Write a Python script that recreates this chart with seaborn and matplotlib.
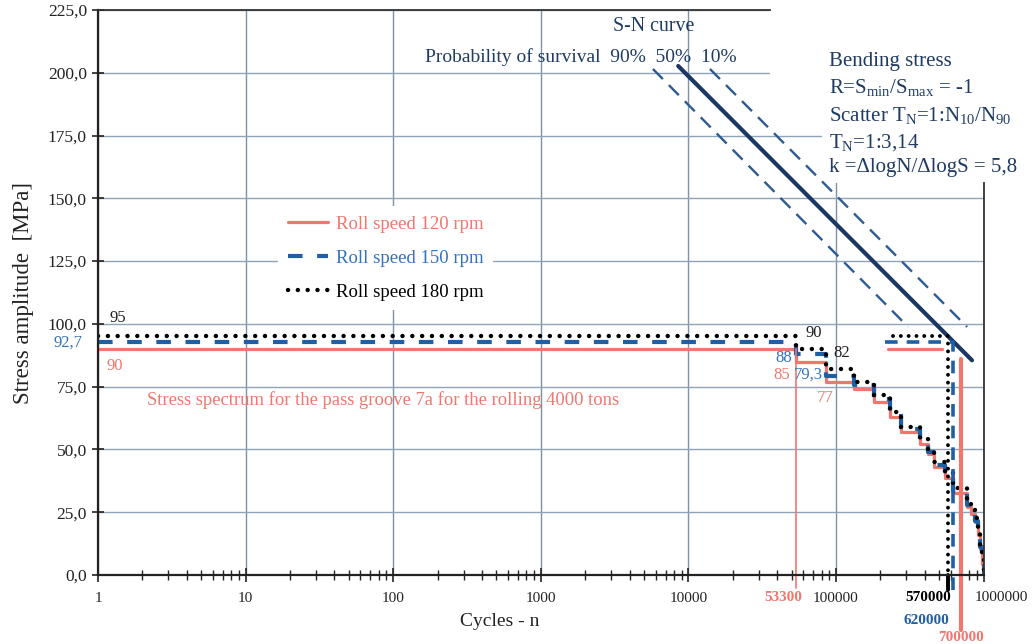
import matplotlib
matplotlib.use("Agg")
import matplotlib.pyplot as plt
from matplotlib.patches import Rectangle
import seaborn as sns
from matplotlib.ticker import FixedLocator, FuncFormatter, LogLocator, NullFormatter

# ---------------- data ----------------
step_cycles = [1, 53300, 85500, 132000, 181000, 232000, 276000, 371000, 420000, 465000,
               547000, 620000, 773000, 820000, 870000, 910000, 950000, 980000, 1000000]
stress_180 = [95, 90, 82, 77, 71.5, 65, 59, 54, 50, 45, 40.5, 34.6, 28.7, 26, 22.7, 17.5, 12, 6, 0]
stress_150 = [92.7, 88, 79.3, 75.5, 70, 64, 58, 53, 49, 44, 39.5, 33.5, 28, 25, 21.5, 16.5, 11, 5, 0]
stress_120 = [90, 85, 77, 74, 69, 63, 57, 52, 48, 43, 38.5, 32.8, 27.2, 24.5, 21, 16, 10.5, 4.5, 0]

eq180_n = [243000, 570000, 570000]
eq180_s = [95, 95, 0]
eq180_tail_n = [570000, 570000]
eq180_tail_s = [0, -6]
eq150_n = [215000, 620000, 620000]
eq150_s = [92.7, 92.7, -9]
eq120_n = [225000, 523000]
eq120_s = [90, 90]
eq120_v_n = [700000, 700000]
eq120_v_s = [86, -22]
first_step_n = [53300, 53300]
first_step_s = [90, -5]

sn50_n = [8530, 835000]
sn50_s = [202.7, 85.5]
sn90_n = [5750, 308000]
sn90_s = [201.5, 98.8]
sn10_n = [14000, 773000]
sn10_s = [201.5, 98.8]

x_ticks = [1, 10, 100, 1000, 10000, 100000, 1000000]
x_tick_labels = ["1", "10", "100", "1000", "10000", "100000", ""]
y_ticks = [0, 25, 50, 75, 100, 125, 150, 175, 200, 225]

RED = "#ef776e"
BLUE = "#1f5fa6"
BLUE_TXT = "#3372bd"
NAVY = "#1b3767"
SNDASH = "#2b5a94"
TXT = "#1f3b63"
GRID = "#8fa3b6"

sns.set_theme(style="white")
plt.rcParams["font.family"] = ["Liberation Serif", "DejaVu Serif"]
plt.rcParams["mathtext.fontset"] = "custom"
plt.rcParams["mathtext.rm"] = "Liberation Serif"
plt.rcParams["mathtext.it"] = "Liberation Serif:italic"
plt.rcParams["mathtext.bf"] = "Liberation Serif:bold"

fig = plt.figure(figsize=(10.36, 6.44), dpi=100)
ax = fig.add_axes([0.0946, 0.1071, 0.8548, 0.8774])
ax.set_xscale("log")
ax.set_xlim(1, 1e6)
ax.set_ylim(0, 225)

# grid
ax.xaxis.grid(True, which="major", color="#7d92a6", lw=1.0)
ax.yaxis.grid(True, which="major", color=GRID, lw=1.0)
ax.set_axisbelow(True)

# white areas behind the text block (top right), as in the original layout
ax.add_patch(Rectangle((0.759, 0.841), 0.30, 0.20, transform=ax.transAxes, facecolor="white",
                       edgecolor="none", zorder=1, clip_on=False))
ax.add_patch(Rectangle((0.8175, 0.694), 0.25, 0.20, transform=ax.transAxes, facecolor="white",
                       edgecolor="none", zorder=1, clip_on=False))

# S-N curves
sns.lineplot(x=sn90_n, y=sn90_s, ax=ax, color=SNDASH, lw=1.7, linestyle=(0, (6, 3.6)), estimator=None, sort=False)
sns.lineplot(x=sn10_n, y=sn10_s, ax=ax, color=SNDASH, lw=1.7, linestyle=(0, (6, 3.6)), estimator=None, sort=False)
sns.lineplot(x=sn50_n, y=sn50_s, ax=ax, color=NAVY, lw=3.0, estimator=None, sort=False)

# spectra
sns.lineplot(x=step_cycles, y=stress_120, ax=ax, color=RED, lw=2.3, drawstyle="steps-post",
             estimator=None, sort=False, label="Roll speed 120 rpm")
sns.lineplot(x=step_cycles, y=stress_150, ax=ax, color=BLUE, lw=3.0, linestyle=(0, (3.5, 3.5)),
             drawstyle="steps-post", estimator=None, sort=False, label="Roll speed 150 rpm")
sns.lineplot(x=step_cycles, y=stress_180, ax=ax, color="black", lw=3.2, linestyle=(0, (0.01, 2.2)),
             dash_capstyle="round", drawstyle="steps-post", estimator=None, sort=False,
             label="Roll speed 180 rpm")

# equivalent / limit lines
sns.lineplot(x=first_step_n, y=first_step_s, ax=ax, color=RED, lw=1.2, estimator=None, sort=False, clip_on=False)
sns.lineplot(x=eq120_n, y=eq120_s, ax=ax, color=RED, lw=2.3, estimator=None, sort=False)
sns.lineplot(x=eq120_v_n, y=eq120_v_s, ax=ax, color=RED, lw=3.0, estimator=None, sort=False, clip_on=False)
sns.lineplot(x=eq150_n, y=eq150_s, ax=ax, color=BLUE, lw=2.6, linestyle=(0, (3.5, 2.5)),
             estimator=None, sort=False, clip_on=False)
sns.lineplot(x=eq180_n, y=eq180_s, ax=ax, color="black", lw=2.8, linestyle=(0, (0.01, 2.0)),
             dash_capstyle="round", estimator=None, sort=False)
sns.lineplot(x=eq180_tail_n, y=eq180_tail_s, ax=ax, color="black", lw=2.8, estimator=None, sort=False,
             clip_on=False)

# axes styling
for s in ["left", "bottom"]:
    ax.spines[s].set_color("#222222")
    ax.spines[s].set_linewidth(1.6)
ax.spines["top"].set_color("#333333")
ax.spines["top"].set_linewidth(1.3)
ax.spines["top"].set_bounds(1, 35700)
ax.spines["right"].set_color("#333333")
ax.spines["right"].set_linewidth(1.3)
ax.spines["right"].set_bounds(0, 156)

ax.xaxis.set_major_locator(FixedLocator(x_ticks))
ax.set_xticklabels(x_tick_labels)
ax.xaxis.set_minor_locator(LogLocator(base=10, subs=range(2, 10), numticks=20))
ax.xaxis.set_minor_formatter(NullFormatter())
ax.yaxis.set_major_locator(FixedLocator(y_ticks))
ax.yaxis.set_major_formatter(FuncFormatter(lambda v, p: f"{v:.1f}".replace(".", ",")))
ax.tick_params(axis="x", which="major", direction="inout", length=10, width=1.2, color="#222222",
               pad=7, labelsize=11, labelcolor="#222222", bottom=True)
ax.tick_params(axis="x", which="minor", direction="inout", length=7, width=1.0, color="#222222", bottom=True)
ax.tick_params(axis="y", which="major", direction="inout", length=8, width=1.2, color="#222222",
               pad=4, labelsize=12.5, labelcolor="#222222", left=True)

ax.set_xlabel("Cycles - n", fontsize=14, color="#222222")
ax.xaxis.set_label_coords(0.454, -0.068)
ax.set_ylabel("Stress amplitude  [MPa]", fontsize=16.5, color="#222222")
ax.yaxis.set_label_coords(-0.072, 0.5)

# legend
leg = ax.legend(loc="center", bbox_to_anchor=(0.325, 0.561), frameon=True, fontsize=13.5,
                handlelength=2.15, handletextpad=0.45, labelspacing=0.9, borderpad=0.5,
                labelcolor=[RED, BLUE_TXT, "black"])
leg.get_frame().set_facecolor("white")
leg.get_frame().set_edgecolor("none")
leg.get_frame().set_alpha(1)

# annotations
FS = 12
ax.text(1.36, 102.5, "95", fontsize=FS, color="#222222", ha="center", va="center")
ax.annotate("92,7", xy=(1, 92.7), xytext=(-11, 0), textcoords="offset points", ha="right",
            va="center", fontsize=FS, color=BLUE_TXT, annotation_clip=False)
ax.text(1.30, 83.2, "90", fontsize=FS, color=RED, ha="center", va="center")
ax.text(71000, 96.3, "90", fontsize=FS, color="#222222", ha="center", va="center")
ax.text(44100, 86.4, "88", fontsize=FS, color=BLUE_TXT, ha="center", va="center")
ax.text(110000, 88.4, "82", fontsize=FS, color="#222222", ha="center", va="center")
ax.text(42600, 79.6, "85", fontsize=FS, color=RED, ha="center", va="center")
ax.text(64600, 79.6, "79,3", fontsize=FS, color=BLUE_TXT, ha="center", va="center")
ax.text(84100, 70.5, "77", fontsize=FS, color=RED, ha="center", va="center")
ax.text(2.15, 69.7, "Stress spectrum for the pass groove 7a for the rolling 4000 tons",
        fontsize=13.4, color=RED, ha="left", va="center")

ax.annotate("53300", xy=(53300, 0), xytext=(-9, -16), textcoords="offset points", ha="center",
            va="center", fontsize=11, color=RED, fontweight="bold", annotation_clip=False)
ax.annotate("570000", xy=(570000, 0), xytext=(-14, -16.5), textcoords="offset points", ha="center",
            va="center", fontsize=11, color="black", fontweight="bold", annotation_clip=False)
ax.annotate("620000", xy=(620000, 0), xytext=(-19, -33), textcoords="offset points", ha="center",
            va="center", fontsize=11, color=BLUE, fontweight="bold", annotation_clip=False)
ax.annotate("700000", xy=(700000, 0), xytext=(0, -45), textcoords="offset points", ha="center",
            va="center", fontsize=11, color=RED, fontweight="bold", annotation_clip=False)
ax.annotate("1000000", xy=(1000000, 0), xytext=(12.6, -16.5), textcoords="offset points", ha="center",
            va="center", fontsize=11, color="#222222", annotation_clip=False)

ax.text(0.627, 0.97, "S-N curve", transform=ax.transAxes, fontsize=14.3, color=TXT,
        ha="center", va="center")
ax.text(0.545, 0.917, "Probability of survival  90%  50%  10%", transform=ax.transAxes,
        fontsize=14, color=TXT, ha="center", va="center")

right_txt = ("Bending stress\n"
             r"R=S$_{\mathrm{min}}$/S$_{\mathrm{max}}$ = -1" "\n"
             r"Scatter T$_{\mathrm{N}}$=1:N$_{\mathrm{10}}$/N$_{\mathrm{90}}$" "\n"
             r"T$_{\mathrm{N}}$=1:3,14" "\n"
             "k =\u0394logN/\u0394logS = 5,8")
ax.text(0.825, 0.926, right_txt, transform=ax.transAxes, fontsize=15, color=TXT,
        ha="left", va="top", linespacing=1.4, zorder=3)

fig.savefig("out.png", dpi=100, facecolor="white")
